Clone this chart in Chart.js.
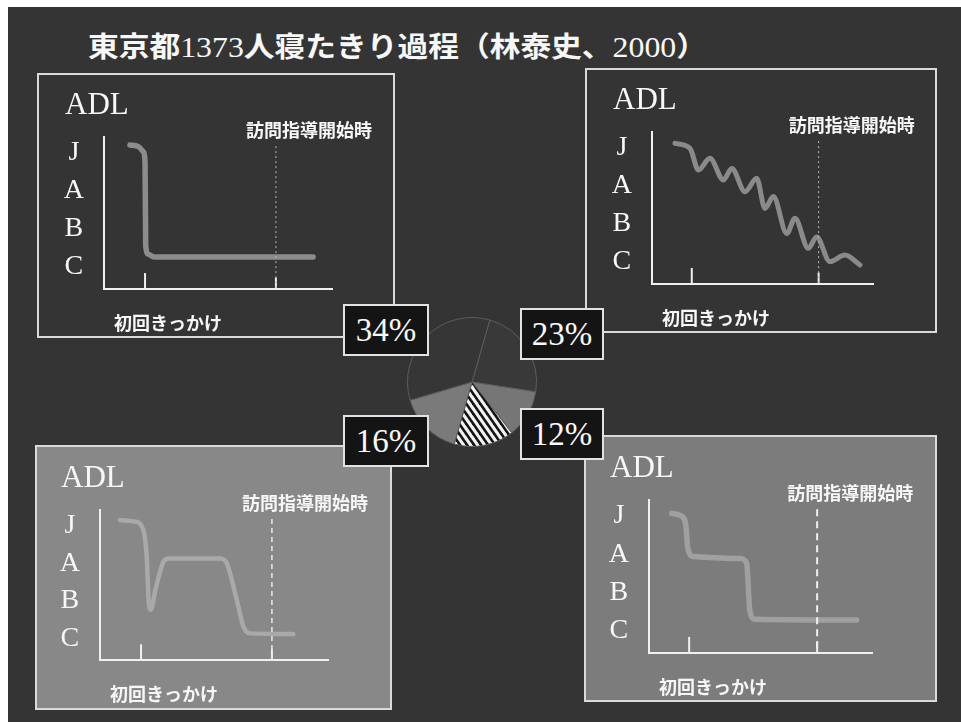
<!DOCTYPE html>
<html lang="ja">
<head>
<meta charset="utf-8">
<title>東京都1373人寝たきり過程</title>
<script src="https://cdn.jsdelivr.net/npm/chart.js@4.4.1/dist/chart.umd.min.js"></script>
<style>
  html, body { margin: 0; padding: 0; background: #fff; }
  #stage { position: relative; width: 961px; height: 722px; overflow: hidden; background: #fff; }
  #slide { position: absolute; left: 8px; top: 7px; width: 953px; height: 715px; background: #343434; }
  #title {
    position: absolute; left: 88px; top: 31px; white-space: nowrap;
    color: #f7f7f7; font-size: 28px; line-height: 28px; transform-origin: 0 50%;
  }
  #title .cjk { font-family: "Noto Sans CJK JP", sans-serif; font-weight: 700; }
  #title .num { font-family: "Liberation Serif", serif; font-size: 29px; }
  .frame { position: absolute; box-sizing: border-box; border: 2px solid #dadada; }
  .panel-canvas { position: absolute; }
  .box {
    position: absolute; box-sizing: border-box; border: 2px solid #e2e2e2; background: #141414;
    color: #fafafa; font-family: "Liberation Serif", serif; font-size: 33px;
    display: flex; align-items: center; justify-content: center;
  }
</style>
</head>
<body>
<div id="stage">
  <div id="slide"></div>
  <div id="title"><span class="cjk">東京都</span><span class="num">1373</span><span class="cjk">人寝たきり過程（林泰史、</span><span class="num">2000</span><span class="cjk">）</span></div>
</div>
<script>
// ADL levels, bottom to top (value 1..4)
const adlLabels = ['C', 'B', 'A', 'J'];
const adlMin = 0.42;
const adlMax = 4.42;

// time axis (relative units)
const timeMin = 0;
const timeMax = 100;
const onsetTime = 18;      // 初回きっかけ
const visitTime = 75.4;    // 訪問指導開始時

// course 1: sudden drop after the first event (34%)
const suddenTime = [11.4, 15.0, 17.4, 18.0, 18.3, 19.4, 22.0, 91.7];
const suddenAdl  = [4.21, 4.17, 4.02, 3.75, 1.55, 1.34, 1.26, 1.26];

// course 2: repeated ups and downs, gradual decline (23%)
const gradualTime = [10.4, 17.2, 21.0, 26.2, 32.3, 36.1, 42.1, 47.4, 51.1, 54.9, 61.0, 64.7, 70.7, 74.5, 80.5, 87.3, 94.1];
const gradualAdl  = [4.12, 3.99, 3.42, 3.73, 3.16, 3.46, 2.85, 3.20, 2.41, 2.72, 1.75, 2.15, 1.36, 1.66, 1.01, 1.18, 0.92];

// course 3: drop, recovery, then a second drop (16%)
const relapseTime = [8.8, 15.4, 19.0, 20.5, 21.4, 22.3, 24.3, 27.8, 30.0, 52.6, 55.6, 60.0, 62.9, 65.8, 84.8];
const relapseAdl  = [4.15, 4.11, 3.89, 3.17, 1.95, 1.76, 2.29, 3.04, 3.13, 3.13, 3.00, 2.02, 1.31, 1.13, 1.11];

// course 4: stepwise decline (12%)
const stepTime = [10.2, 14.6, 16.6, 17.4, 19.9, 40.8, 43.8, 45.2, 47.5, 93.1];
const stepAdl  = [4.07, 4.00, 3.72, 3.16, 2.94, 2.89, 2.76, 1.54, 1.30, 1.28];

// share of each course, clockwise from the pie's starting angle
const shareKeys   = ['gradual', 'step', 'other', 'relapse', 'sudden'];
const shareValues = [23, 12, 15, 16, 34];
const pieRotation = 16;

// ---------- layout ----------
const panels = [
  { id: 'sudden',  xs: suddenTime,  ys: suddenAdl,  bg: '#343434',
    rect: { x: 37,  y: 73,  w: 358, h: 265 }, area: { l: 104, t: 137, r: 332, b: 289 },
    line: '#8c8c8c', lw: 5.5, dash: [2, 3], dashColor: '#b8b8b8', dashW: 1,
    box: { x: 343, y: 304, w: 86, h: 52 } },
  { id: 'gradual', xs: gradualTime, ys: gradualAdl, bg: '#343434',
    rect: { x: 585, y: 68,  w: 352, h: 265 }, area: { l: 652, t: 132, r: 873, b: 284 },
    line: '#8a8a8a', lw: 5, dash: [2, 3], dashColor: '#b8b8b8', dashW: 1,
    box: { x: 520, y: 308, w: 84, h: 52 } },
  { id: 'relapse', xs: relapseTime, ys: relapseAdl, bg: '#888888',
    rect: { x: 35,  y: 445, w: 357, h: 265 }, area: { l: 100, t: 510, r: 328, b: 660 },
    line: '#a9a9a9', lw: 4.5, dash: [5, 4], dashColor: '#e8e8e8', dashW: 1.5,
    box: { x: 343, y: 415, w: 86, h: 52 } },
  { id: 'step',    xs: stepTime,    ys: stepAdl,    bg: '#7c7c7c',
    rect: { x: 584, y: 435, w: 353, h: 267 }, area: { l: 649, t: 500, r: 872, b: 653 },
    line: '#a0a0a0', lw: 5.5, dash: [7, 5], dashColor: '#f0f0f0', dashW: 2,
    box: { x: 520, y: 408, w: 84, h: 52 } }
];

const stage = document.getElementById('stage');

// fit the title to its width
(function () {
  const t = document.getElementById('title');
  const w = t.getBoundingClientRect().width;
  t.style.transform = 'scaleX(' + (619 / w).toFixed(4) + ')';
})();

// marks, reference lines and captions inside each small chart
const panelDecor = {
  id: 'panelDecor',
  afterDatasetsDraw(chart, args, o) {
    const { ctx, chartArea: a, scales: { x, y } } = chart;
    const ox = x.getPixelForValue(onsetTime);
    const vx = x.getPixelForValue(visitTime);
    ctx.save();
    ctx.strokeStyle = '#f0f0f0';
    ctx.lineWidth = 2;
    ctx.beginPath();
    ctx.moveTo(ox, a.bottom);
    ctx.lineTo(ox, y.getPixelForValue(adlMin + 0.42));
    ctx.stroke();
    ctx.beginPath();
    ctx.moveTo(vx, a.bottom);
    ctx.lineTo(vx, y.getPixelForValue(adlMin + 0.3));
    ctx.stroke();
    ctx.setLineDash(o.dash);
    ctx.lineWidth = o.dashW;
    ctx.strokeStyle = o.dashColor;
    ctx.beginPath();
    ctx.moveTo(vx, y.getPixelForValue(4.18));
    ctx.lineTo(vx, a.bottom);
    ctx.stroke();
    ctx.setLineDash([]);

    ctx.fillStyle = '#f7f7f7';
    ctx.textAlign = 'left';
    ctx.textBaseline = 'alphabetic';
    ctx.font = '31px "Liberation Serif", serif';
    ctx.fillText('ADL', a.left - 39, a.top - 23);
    ctx.textBaseline = 'middle';
    ctx.font = 'bold 18px "Noto Sans CJK JP", sans-serif';
    ctx.fillText('訪問指導開始時', vx - 30, a.top - 7);
    ctx.fillText('初回きっかけ', a.left + 10, a.bottom + 34);
    ctx.restore();
  }
};

const yAxisW = 44;

panels.forEach(p => {
  const frame = document.createElement('div');
  frame.className = 'frame';
  Object.assign(frame.style, {
    left: p.rect.x + 'px', top: p.rect.y + 'px',
    width: p.rect.w + 'px', height: p.rect.h + 'px', background: p.bg
  });
  stage.appendChild(frame);

  const cv = document.createElement('canvas');
  cv.className = 'panel-canvas';
  cv.width = p.rect.w; cv.height = p.rect.h;
  cv.style.left = p.rect.x + 'px'; cv.style.top = p.rect.y + 'px';
  stage.appendChild(cv);

  new Chart(cv, {
    type: 'line',
    data: {
      datasets: [{
        data: p.xs.map((t, i) => ({ x: t, y: p.ys[i] })),
        borderColor: p.line,
        borderWidth: p.lw,
        pointRadius: 0,
        fill: false,
        cubicInterpolationMode: 'monotone',
        borderCapStyle: 'round',
        borderJoinStyle: 'round'
      }]
    },
    options: {
      responsive: false,
      animation: false,
      events: [],
      layout: {
        padding: {
          left: p.area.l - p.rect.x - yAxisW,
          top: p.area.t - p.rect.y,
          right: p.rect.x + p.rect.w - p.area.r,
          bottom: p.rect.y + p.rect.h - p.area.b
        }
      },
      plugins: {
        legend: { display: false },
        tooltip: { enabled: false },
        panelDecor: { dash: p.dash, dashColor: p.dashColor, dashW: p.dashW }
      },
      scales: {
        x: {
          type: 'linear', min: timeMin, max: timeMax,
          grid: { display: false, drawTicks: false },
          ticks: { display: false },
          border: { display: true, color: '#f0f0f0', width: 2 },
          afterFit(s) { s.height = 0; }
        },
        y: {
          type: 'linear', min: adlMin, max: adlMax,
          grid: { display: false, drawTicks: false },
          border: { display: true, color: '#f0f0f0', width: 2 },
          afterBuildTicks(s) { s.ticks = adlLabels.map((_, i) => ({ value: i + 1 })); },
          ticks: {
            autoSkip: false,
            color: '#f7f7f7',
            font: { family: '"Liberation Serif", serif', size: 28 },
            padding: 20,
            crossAlign: 'center',
            callback: v => adlLabels[v - 1]
          },
          afterFit(s) { s.width = yAxisW; }
        }
      }
    },
    plugins: [panelDecor]
  });
});

// ---------- pie of the four courses ----------
function hatchPattern(ctx) {
  const c = document.createElement('canvas');
  c.width = 7; c.height = 10;
  const g = c.getContext('2d');
  g.fillStyle = '#f2f2f2';
  g.fillRect(0, 0, 7, 10);
  g.strokeStyle = '#151515';
  g.lineWidth = 2.6;
  for (let k = -1; k <= 1; k++) {
    g.beginPath();
    g.moveTo(k * 7 - 7, -10);
    g.lineTo(k * 7 + 14, 20);
    g.stroke();
  }
  return ctx.createPattern(c, 'repeat');
}

const pieCanvas = document.createElement('canvas');
pieCanvas.className = 'panel-canvas';
pieCanvas.width = 140; pieCanvas.height = 140;
pieCanvas.style.left = '402px'; pieCanvas.style.top = '312px';
stage.appendChild(pieCanvas);
const pctx = pieCanvas.getContext('2d');
const sliceColors = {
  gradual: '#393939', step: '#767676', other: hatchPattern(pctx), relapse: '#7a7a7a', sudden: '#363636'
};

new Chart(pieCanvas, {
  type: 'pie',
  data: {
    labels: shareKeys,
    datasets: [{
      data: shareValues,
      backgroundColor: shareKeys.map(k => sliceColors[k]),
      borderColor: '#5c5c5c',
      borderWidth: 1
    }]
  },
  options: {
    responsive: false,
    animation: false,
    events: [],
    rotation: pieRotation,
    layout: { padding: 5 },
    plugins: { legend: { display: false }, tooltip: { enabled: false } }
  }
});

// percentage boxes, one per course
panels.forEach(p => {
  const v = shareValues[shareKeys.indexOf(p.id)];
  const b = document.createElement('div');
  b.className = 'box';
  Object.assign(b.style, {
    left: p.box.x + 'px', top: p.box.y + 'px', width: p.box.w + 'px', height: p.box.h + 'px'
  });
  b.textContent = v + '%';
  stage.appendChild(b);
});
</script>
</body>
</html>
